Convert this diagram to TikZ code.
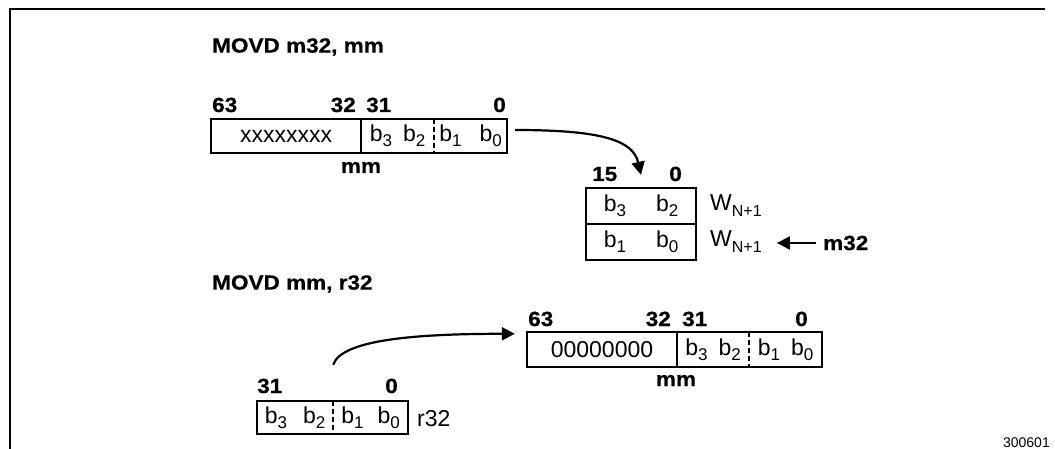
\documentclass[tikz,border=0pt]{standalone}
\usepackage{fontspec}
\setmainfont{Liberation Sans}
\newfontfamily\lblfont{Liberation Sans}[FakeStretch=1.1, FakeBold=0.6]
\usepackage{tikz}
\usetikzlibrary{arrows.meta}

\newcommand{\bsub}[1]{\raisebox{-5pt}{\fontsize{17}{17}\selectfont #1}}
\newcommand{\wsub}[1]{\raisebox{-6pt}{\fontsize{16}{16}\selectfont #1}}

\begin{document}
\begin{tikzpicture}[x=1pt, y=-1pt, every node/.style={inner sep=0pt, font=\fontsize{23}{26}\selectfont}, lbl/.style={font=\lblfont\bfseries\fontsize{20.5}{23}\selectfont}, cell/.style={minimum height=34pt}, box/.style={line width=2.4pt}, half/.style={line width=2.4pt, dash pattern=on 5pt off 3pt}, arr/.style={line width=2.2pt, -{Triangle[length=13pt,width=13pt]}}]
  \useasboundingbox (0,0) rectangle (1055,449);
  \draw[line width=1.6pt] (10,449) -- (10,9) -- (1045,9);

  \node[lbl, anchor=west] (t1) at (212,47) {MOVD m32, mm};
  \node[cell, minimum width=150pt] (hi) at (286,136) {xxxxxxxx};
  \node[cell, minimum width=73pt] (lo3) at (397.5,136) {b\bsub3\hspace{11pt}b\bsub2};
  \node[cell, minimum width=73pt] (lo1) at (470.5,136) {b\bsub1\hspace{18pt}b\bsub0};
  \draw[box] (hi.north west) rectangle (lo1.south east);
  \draw[box] (hi.north east) -- (hi.south east);
  \draw[half] (lo3.north east) -- (lo3.south east);
  \node[lbl, anchor=base west] (h63) at (212,112) {63};
  \node[lbl, anchor=base east] (h32) at (356,112) {32};
  \node[lbl, anchor=base west] (h31) at (366,112) {31};
  \node[lbl, anchor=base east] (h0) at (506,112) {0};
  \node[lbl, anchor=base] (hmm) at (361,173) {mm};

  \node[cell, minimum width=110pt, minimum height=36pt] (w1) at (641,206) {b\bsub3\hspace{30pt}b\bsub2};
  \node[cell, minimum width=110pt, minimum height=36pt] (w0) at (641,242) {b\bsub1\hspace{30pt}b\bsub0};
  \draw[box] (w1.north west) rectangle (w0.south east);
  \draw[box] (w1.south west) -- (w1.south east);
  \node[lbl, anchor=base west] (w15) at (592,181) {15};
  \node[lbl, anchor=base east] (wz) at (682,181) {0};
  \node[anchor=west] (wn1) at (710,206) {W\wsub{N+1}};
  \node[anchor=west] (wn0) at (710,242) {W\wsub{N+1}};
  \node[lbl, anchor=west] (m) at (823,243) {m32};
  \draw[arr] ([xshift=-7pt]m.west) -- ([xshift=15pt]wn0.east |- m.west);
  \draw[arr] ([xshift=8pt,yshift=6pt]lo1.east) .. controls +(85,0) and +(-8,-35) .. ([yshift=13pt]w1.north);

  \node[lbl, anchor=west] (t2) at (212,284) {MOVD mm, r32};
  \node[cell, minimum width=150pt, minimum height=35pt] (bhi) at (602,349.5) {00000000};
  \node[cell, minimum width=72pt, minimum height=35pt] (blo3) at (713,349.5) {b\bsub3\hspace{11pt}b\bsub2};
  \node[cell, minimum width=73pt, minimum height=35pt] (blo1) at (785.5,349.5) {b\bsub1\hspace{11pt}b\bsub0};
  \draw[box] (bhi.north west) rectangle (blo1.south east);
  \draw[box] (bhi.north east) -- (bhi.south east);
  \draw[half] (blo3.north east) -- (blo3.south east);
  \node[lbl, anchor=base west] (b63) at (528,326) {63};
  \node[lbl, anchor=base east] (b32) at (671,326) {32};
  \node[lbl, anchor=base west] (b31) at (682,326) {31};
  \node[lbl, anchor=base east] (b0) at (808,326) {0};
  \node[lbl, anchor=base] (bmm) at (676,386) {mm};

  \node[cell, minimum width=76pt, minimum height=33pt] (rb3) at (295,417.5) {b\bsub3\hspace{16pt}b\bsub2};
  \node[cell, minimum width=75pt, minimum height=33pt] (rb1) at (370.5,417.5) {b\bsub1\hspace{14pt}b\bsub0};
  \draw[box] (rb3.north west) rectangle (rb1.south east);
  \draw[half] (rb3.north east) -- (rb3.south east);
  \node[lbl, anchor=base west] (r31) at (257,393) {31};
  \node[lbl, anchor=base east] (r0) at (398,393) {0};
  \node[anchor=west] (r32) at (417,419) {r32};
  \draw[arr] ([yshift=36pt]rb3.north east) .. controls +(8,-25) and +(-100,0) .. ([xshift=-12pt,yshift=-2pt]bhi.north west);

  \node[anchor=base east, font=\fontsize{14}{16}\selectfont] (fig) at (1050,447.5) {300601};
\end{tikzpicture}
\end{document}
